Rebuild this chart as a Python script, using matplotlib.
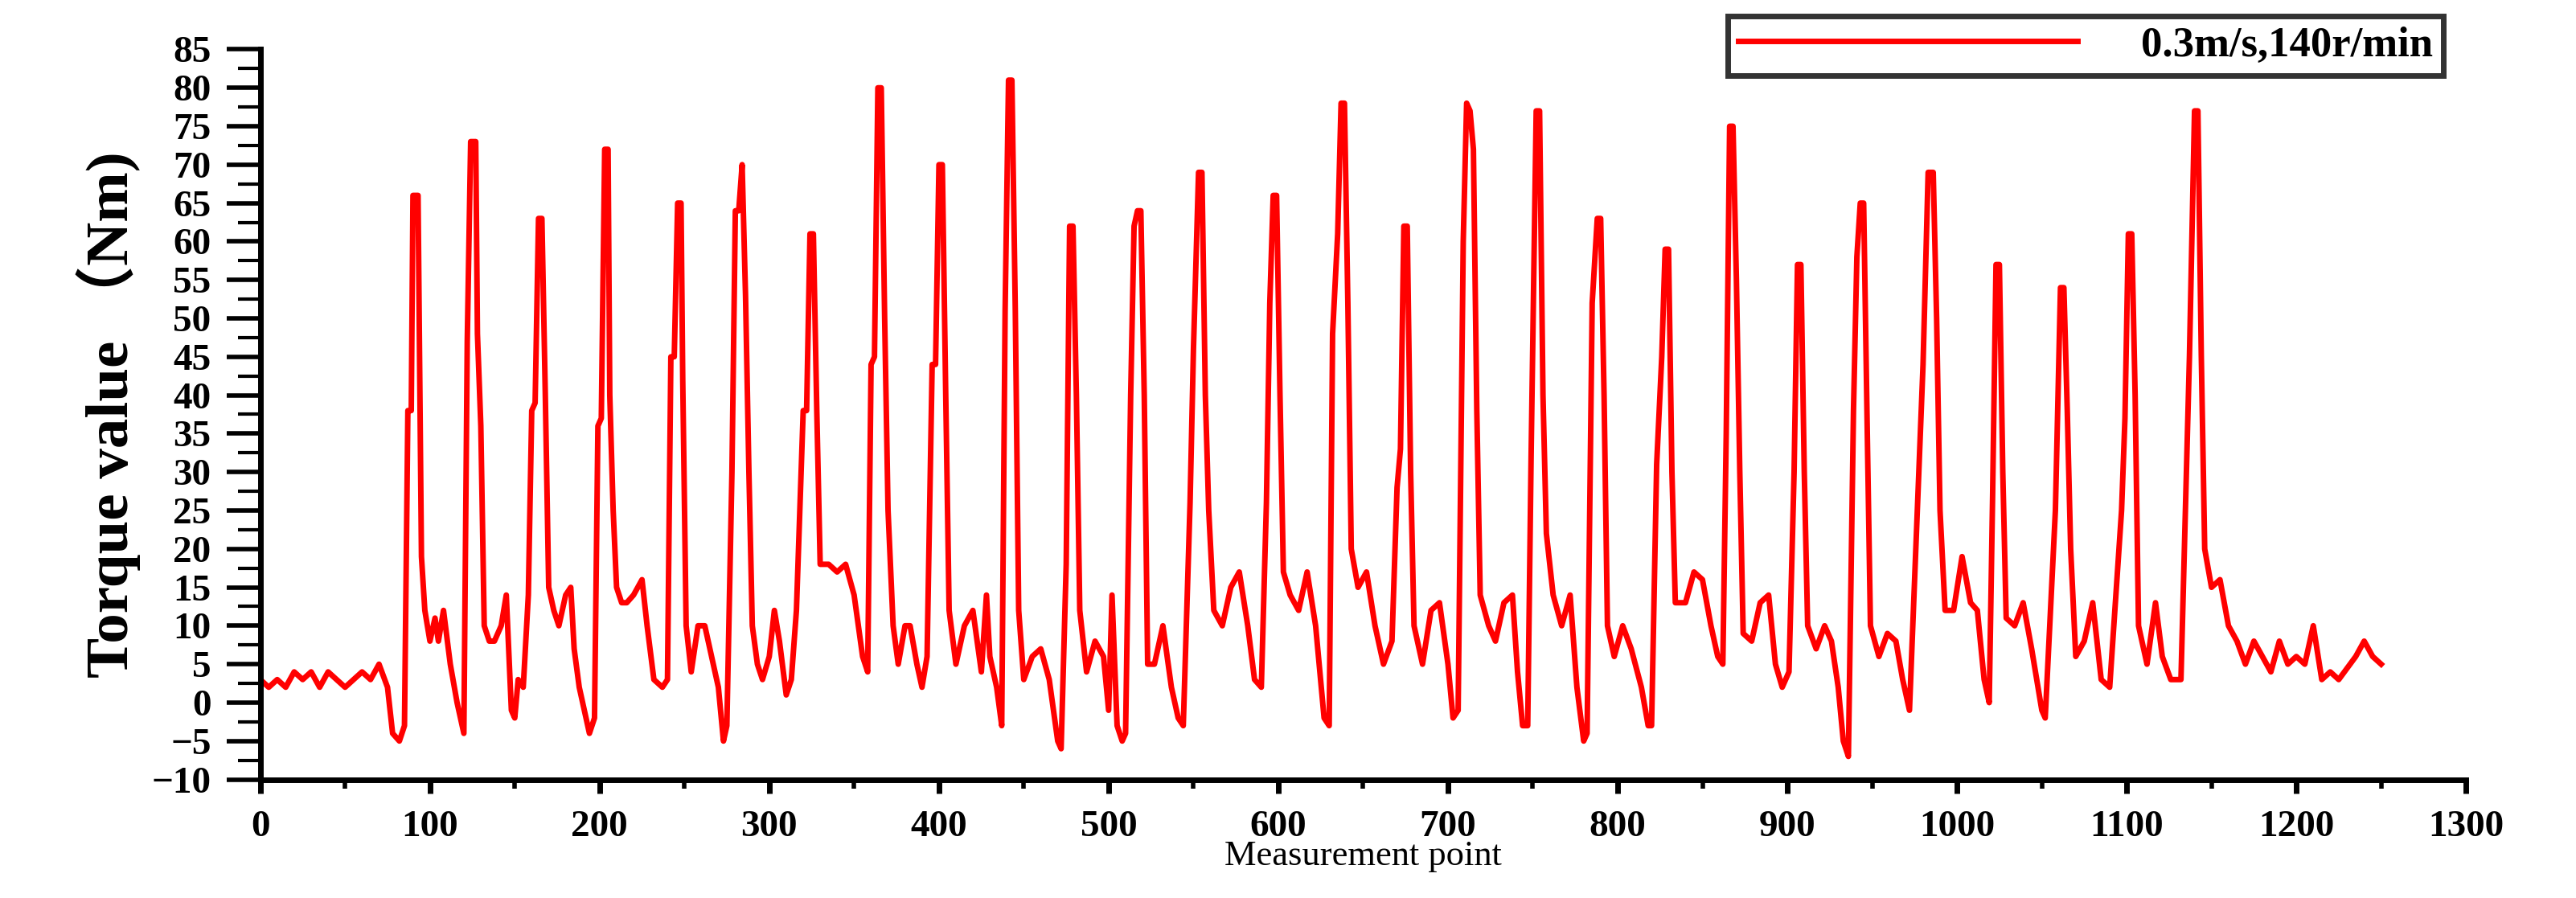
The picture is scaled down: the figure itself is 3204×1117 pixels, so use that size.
import matplotlib
matplotlib.use("Agg")
import matplotlib.pyplot as plt
from matplotlib.ticker import MultipleLocator

pts = [(0,3),(5,2),(10,3),(15,2),(20,4),(25,3),(30,4),(35,2),(40,4),(45,3),(50,2),(55,3),(60,4),(65,3),(70,5),(75,2),(78,-4),(82,-5),(85,-3),(87,38),(89,38),(90,66),(93,66),(94,43),(95,19),(97,12),(100,8),(103,11),(105,8),(108,12),(112,5),(116,0),(120,-4),(122,47),(124,73),(127,73),(128,48),(130,36),(132,10),(135,8),(138,8),(142,10),(145,14),(148,-1),(150,-2),(152,3),(155,2),(158,14),(160,38),(162,39),(164,63),(166,63),(168,40),(170,15),(173,12),(176,10),(180,14),(183,15),(185,7),(188,2),(192,-2),(194,-4),(197,-2),(199,36),(201,37),(203,72),(205,72),(206,40),(208,25),(210,15),(213,13),(216,13),(220,14),(225,16),(228,10),(232,3),(237,2),(240,3),(242,45),(244,45),(246,65),(248,65),(249,42),(251,10),(254,4),(258,10),(262,10),(265,7),(270,2),(273,-5),(275,-3),(278,30),(280,64),(282,64),(284,70),(286,53),(288,30),(290,10),(293,5),(296,3),(300,6),(303,12),(306,8),(310,1),(313,3),(316,12),(320,38),(322,38),(324,61),(326,61),(328,38),(330,18),(335,18),(340,17),(345,18),(350,14),(355,6),(358,4),(360,44),(362,45),(364,80),(366,80),(368,50),(370,25),(373,10),(376,5),(380,10),(383,10),(387,5),(390,2),(393,6),(396,44),(398,44),(400,70),(402,70),(404,40),(406,12),(410,5),(415,10),(420,12),(425,4),(428,14),(430,6),(434,2),(437,-3),(439,51),(441,81),(443,81),(445,51),(447,12),(450,3),(455,6),(460,7),(465,3),(470,-5),(472,-6),(475,18),(477,62),(479,62),(481,40),(483,12),(487,4),(492,8),(497,6),(500,-1),(502,14),(505,-3),(508,-5),(510,-4),(513,40),(515,62),(517,64),(519,64),(521,40),(523,5),(527,5),(532,10),(537,2),(541,-2),(544,-3),(548,26),(550,46),(553,69),(555,69),(557,40),(559,25),(562,12),(567,10),(572,15),(577,17),(582,10),(586,3),(590,2),(593,26),(595,52),(597,66),(599,66),(601,40),(603,17),(607,14),(612,12),(617,17),(622,10),(627,-2),(630,-3),(632,48),(635,61),(637,78),(639,78),(641,52),(643,20),(647,15),(652,17),(657,10),(662,5),(667,8),(670,28),(672,33),(674,62),(676,62),(678,30),(680,10),(685,5),(690,12),(695,13),(700,5),(703,-2),(706,-1),(709,60),(711,78),(713,77),(715,72),(717,38),(719,14),(724,10),(728,8),(733,13),(738,14),(741,4),(744,-3),(747,-3),(749,32),(752,77),(754,77),(756,40),(758,22),(762,14),(767,10),(772,14),(776,2),(780,-5),(782,-4),(785,52),(788,63),(790,63),(792,40),(794,10),(798,6),(803,10),(808,7),(814,2),(818,-3),(820,-3),(823,31),(826,45),(828,59),(830,59),(832,30),(834,13),(840,13),(845,17),(850,16),(855,10),(859,6),(862,5),(864,35),(866,75),(868,75),(870,55),(872,30),(874,9),(879,8),(884,13),(889,14),(893,5),(897,2),(901,4),(904,30),(906,57),(908,57),(910,30),(912,10),(917,7),(922,10),(926,8),(930,2),(933,-5),(936,-7),(939,38),(941,58),(943,65),(945,65),(947,37),(949,10),(954,6),(959,9),(964,8),(968,3),(972,-1),(980,44),(983,69),(986,69),(988,50),(990,25),(993,12),(998,12),(1003,19),(1008,13),(1012,12),(1016,3),(1019,0),(1021,27),(1023,57),(1025,57),(1027,30),(1029,11),(1034,10),(1039,13),(1044,7),(1050,-1),(1052,-2),(1058,25),(1061,54),(1063,54),(1065,38),(1067,20),(1070,6),(1075,8),(1080,13),(1085,3),(1090,2),(1097,25),(1099,37),(1101,61),(1103,61),(1105,40),(1107,10),(1112,5),(1117,13),(1121,6),(1126,3),(1132,3),(1137,45),(1140,77),(1142,77),(1144,45),(1146,20),(1150,15),(1155,16),(1160,10),(1165,8),(1170,5),(1175,8),(1180,6),(1185,4),(1190,8),(1195,5),(1200,6),(1205,5),(1210,10),(1215,3),(1220,4),(1225,3),(1235,6),(1240,8),(1245,6),(1250,5)]
measurement_point = [p[0] for p in pts]
torque = [p[1] for p in pts]
series_label = "0.3m/s,140r/min"

serif = ["Liberation Serif", "DejaVu Serif"]
fig = plt.figure(figsize=(32.05, 11.17), dpi=100)
ax = fig.add_axes([0.101, 0.132, 0.856, 0.813])
ax.plot(measurement_point, torque, color="#ff0000", lw=5, label=series_label)
ax.set_xlim(0, 1300)
ax.set_ylim(-10, 85)
ax.xaxis.set_major_locator(MultipleLocator(100))
ax.xaxis.set_minor_locator(MultipleLocator(50))
ax.yaxis.set_major_locator(MultipleLocator(5))
ax.yaxis.set_minor_locator(MultipleLocator(2.5))
for s in ["top", "right"]:
    ax.spines[s].set_visible(False)
for s in ["left", "bottom"]:
    ax.spines[s].set_linewidth(5)
ax.tick_params(axis="y", which="major", length=30, width=4, direction="out", pad=14)
ax.tick_params(axis="y", which="minor", length=20, width=3, direction="out")
ax.tick_params(axis="x", which="major", length=12, width=5, direction="out", pad=16)
ax.tick_params(axis="x", which="minor", length=8, width=4, direction="out")
for lab in ax.get_xticklabels() + ax.get_yticklabels():
    lab.set_fontfamily(serif)
    lab.set_fontweight("bold")
    lab.set_fontsize(34)
ax.set_xlabel("Measurement point", fontfamily=serif, fontsize=32, labelpad=-4)
ax.set_ylabel("Torque value （Nm)", fontfamily=["Liberation Serif", "Noto Sans CJK SC"], fontweight="bold", fontsize=54, labelpad=10)
leg = ax.legend(loc="upper right", bbox_to_anchor=(0.9995, 1.075), prop={"family": serif, "weight": "bold", "size": 38},
                frameon=True, fancybox=False, edgecolor="black", handlelength=8, handletextpad=1.5, borderpad=0.25)
leg.get_frame().set_linewidth(5)
fig.savefig("out.png", dpi=100)
